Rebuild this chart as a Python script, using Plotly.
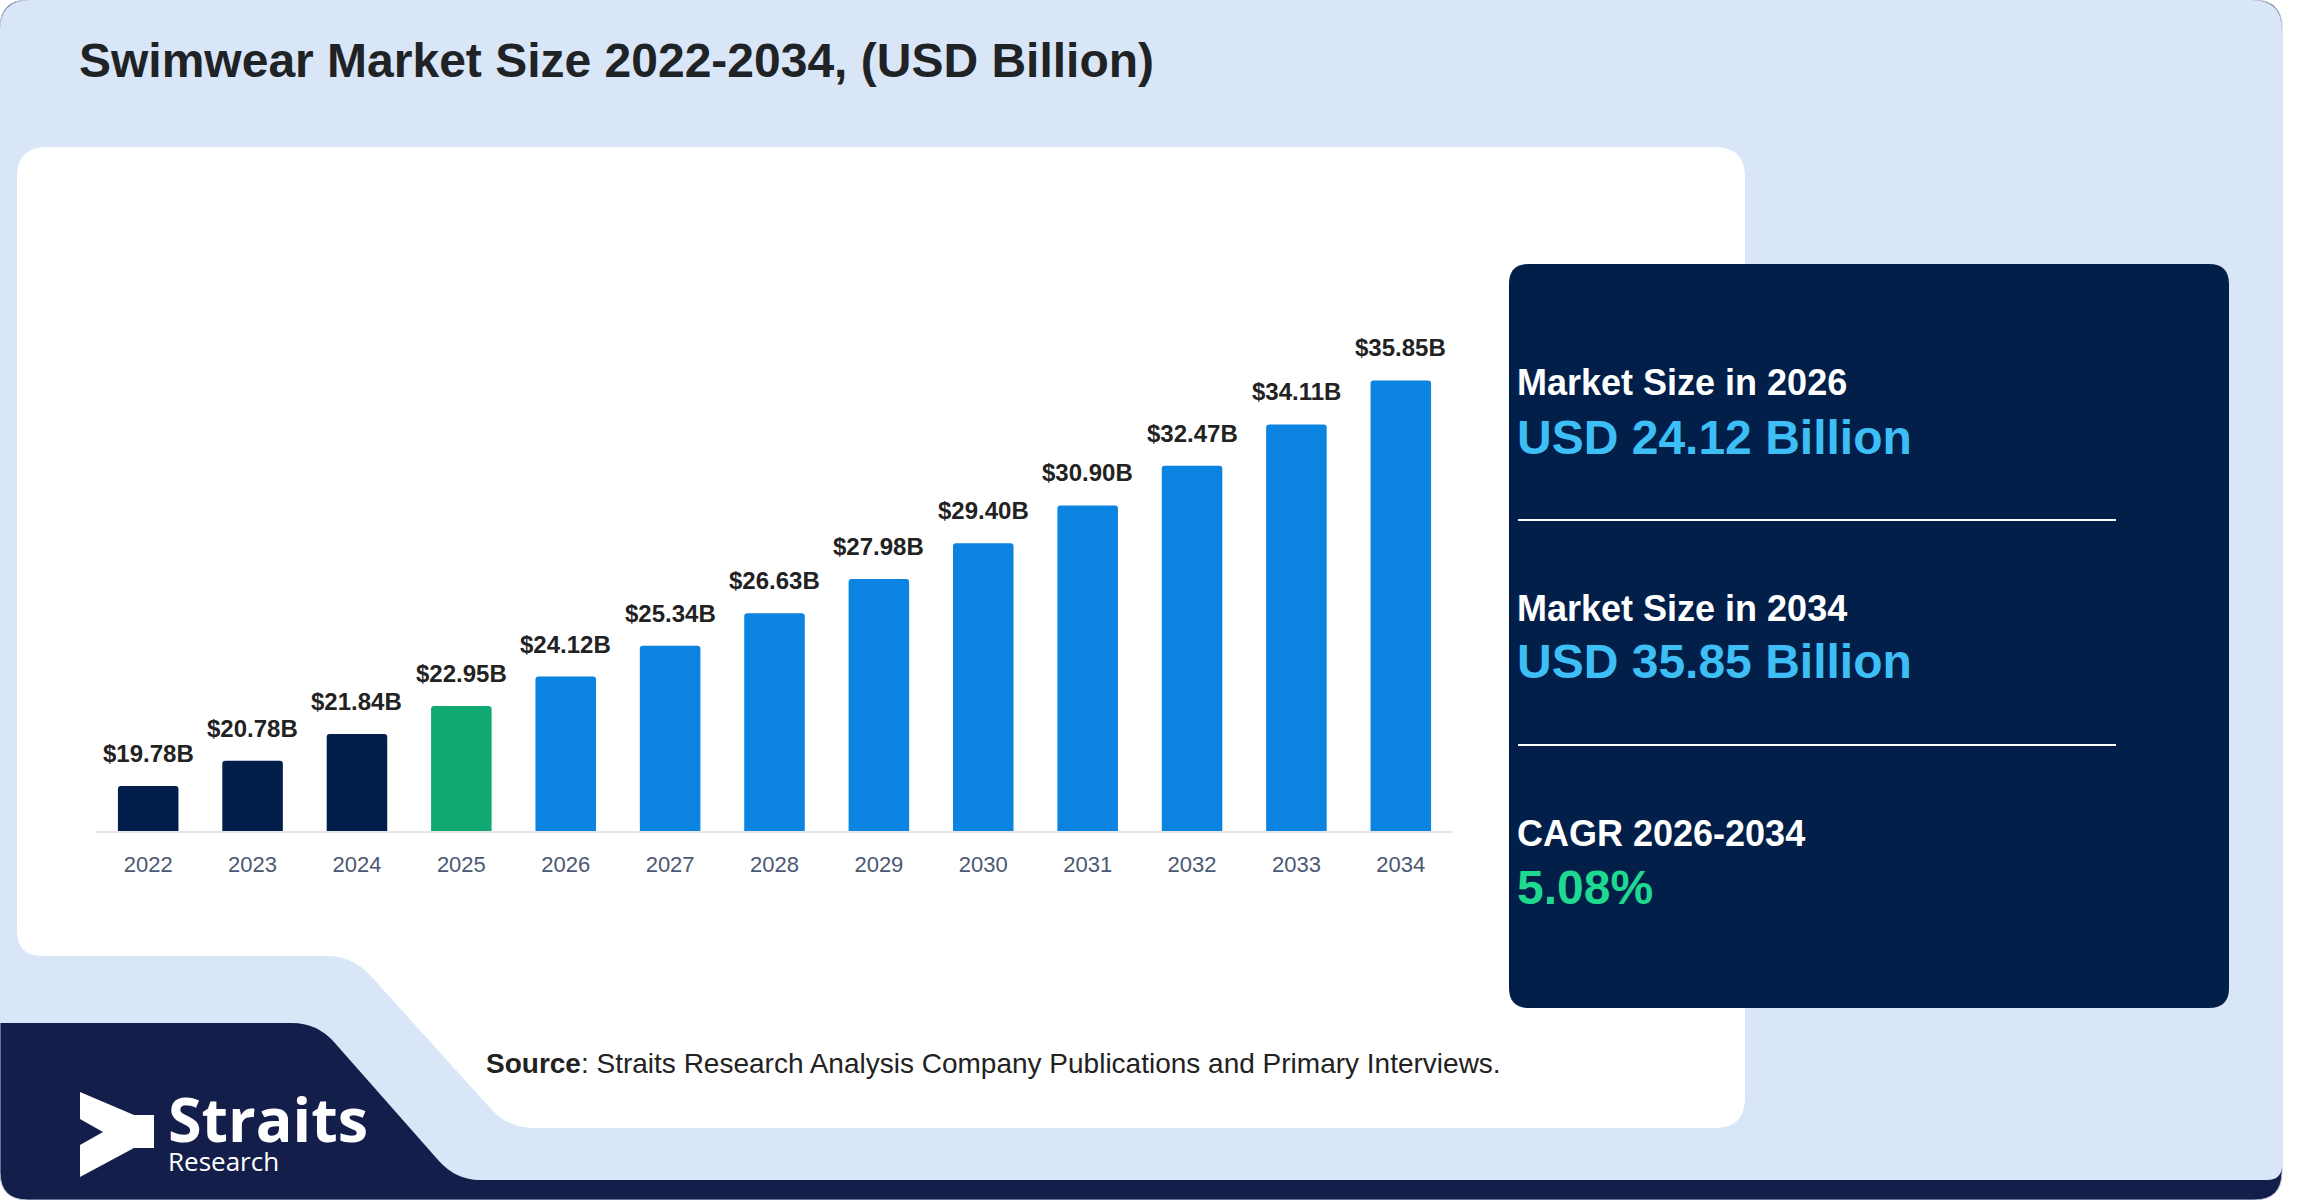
import plotly.graph_objects as go

W, H = 2312, 1200
OFF = 0  # body margin is removed in the page, so no offset is needed

years = ["2022", "2023", "2024", "2025", "2026", "2027", "2028",
         "2029", "2030", "2031", "2032", "2033", "2034"]
market_size = [19.78, 20.78, 21.84, 22.95, 24.12, 25.34, 26.63,
               27.98, 29.40, 30.90, 32.47, 34.11, 35.85]
bar_labels = ["$19.78B", "$20.78B", "$21.84B", "$22.95B", "$24.12B", "$25.34B", "$26.63B",
              "$27.98B", "$29.40B", "$30.90B", "$32.47B", "$34.11B", "$35.85B"]
bar_colors = ["#021f4b"] * 3 + ["#12a872"] + ["#0b83e0"] * 9

panel_titles = ["Market Size in 2026", "Market Size in 2034", "CAGR 2026-2034"]
panel_values = ["USD 24.12 Billion", "USD 35.85 Billion", "5.08%"]
panel_value_colors = ["#3dbff5", "#3dbff5", "#20d990"]

FONT = "Liberation Sans, Arial, sans-serif"
LOGO_FONT = "Open Sans, sans-serif"


def px(x):
    return (x - OFF) / W


def py(y):
    return 1 - (y - OFF) / H


def P(x, y):
    # pixel -> paper coordinates
    return f"{px(x):.5f},{py(y):.5f}"


def rounded_rect(x0, y0, x1, y1, r):
    return (f"M {P(x0 + r, y0)} L {P(x1 - r, y0)} Q {P(x1, y0)} {P(x1, y0 + r)} "
            f"L {P(x1, y1 - r)} Q {P(x1, y1)} {P(x1 - r, y1)} "
            f"L {P(x0 + r, y1)} Q {P(x0, y1)} {P(x0, y1 - r)} "
            f"L {P(x0, y0 + r)} Q {P(x0, y0)} {P(x0 + r, y0)} Z")


def path_shape(path, color, line_color=None, line_width=0):
    return dict(type="path", path=path, xref="paper", yref="paper", layer="below",
                fillcolor=color, line=dict(width=line_width, color=line_color or color))


# background pieces
outer = rounded_rect(0, 0, 2282, 1200, 28)

light_blue = (f"M {P(0, 30)} Q {P(0, 0)} {P(30, 0)} L {P(2252, 0)} Q {P(2282, 0)} {P(2282, 30)} "
              f"L {P(2282, 1165)} Q {P(2282, 1180)} {P(2267, 1180)} L {P(480, 1180)} "
              f"Q {P(456, 1180)} {P(439, 1161)} L {P(334, 1042)} Q {P(317, 1023)} {P(292, 1023)} "
              f"L {P(0, 1023)} Z")

white_panel = (f"M {P(47, 147)} L {P(1715, 147)} Q {P(1745, 147)} {P(1745, 177)} "
               f"L {P(1745, 1098)} Q {P(1745, 1128)} {P(1715, 1128)} L {P(534, 1128)} "
               f"Q {P(509, 1128)} {P(492, 1110)} L {P(369, 974)} Q {P(352, 956)} {P(327, 956)} "
               f"L {P(42, 956)} Q {P(17, 956)} {P(17, 931)} L {P(17, 177)} Q {P(17, 147)} {P(47, 147)} Z")

dark_panel = rounded_rect(1509, 264, 2229, 1008, 20)

logo_mark = (f"M {P(80, 1092)} L {P(134, 1115)} L {P(154, 1115)} L {P(154, 1148)} "
             f"L {P(134, 1148)} L {P(80, 1177)} L {P(80, 1145)} L {P(103, 1132)} L {P(80, 1119)} Z")

shapes = [
    path_shape(outer, "#131f4a", "#b6c3d8", 1),
    path_shape(light_blue, "#d9e6f8"),
    path_shape(white_panel, "#ffffff"),
    path_shape(dark_panel, "#011f49"),
    dict(type="path", path=logo_mark, xref="paper", yref="paper", layer="above",
         fillcolor="#ffffff", line=dict(width=0)),
    dict(type="line", xref="paper", yref="paper", x0=px(1518), x1=px(2116),
         y0=py(520), y1=py(520), line=dict(color="#ffffff", width=2)),
    dict(type="line", xref="paper", yref="paper", x0=px(1518), x1=px(2116),
         y0=py(745), y1=py(745), line=dict(color="#ffffff", width=2)),
]

fig = go.Figure()
fig.add_trace(go.Bar(
    x=years, y=market_size, marker=dict(color=bar_colors, cornerradius=3, line=dict(width=0)),
    hoverinfo="x+y", showlegend=False,
))

annotations = []
# value labels above the bars (category index on x)
for i, (v, lab) in enumerate(zip(market_size, bar_labels)):
    annotations.append(dict(x=i, y=v, xref="x", yref="y", text=lab, showarrow=False,
                            yanchor="bottom", yshift=17,
                            font=dict(family=FONT, size=24, color="#222222", weight="bold")))


def text_at(x, y, text, size, color, bold=False, family=FONT, yanchor="middle"):
    annotations.append(dict(x=px(x), y=py(y), xref="paper", yref="paper", text=text,
                            showarrow=False, xanchor="left", yanchor=yanchor, align="left",
                            font=dict(family=family, size=size, color=color,
                                      weight="bold" if bold else "normal")))


text_at(77, 60, "Swimwear Market Size 2022-2034, (USD Billion)", 48, "#1f2326", bold=True)

title_y = [383, 609, 833]
value_y = [437, 661, 887]
for t, v, c, ty, vy in zip(panel_titles, panel_values, panel_value_colors, title_y, value_y):
    text_at(1515, ty, t, 36, "#ffffff", bold=True)
    text_at(1515, vy, v, 48, c, bold=True)

text_at(484, 1063, "<b>Source</b>: Straits Research Analysis Company Publications and Primary Interviews.",
        28, "#222222")

# logo wordmark: both lines in one text block
text_at(166, 1181,
        '<span style="font-size:61px"><b>Straits</b></span><br>'
        '<span style="font-size:26px">Research</span>',
        22, "#ffffff", family=LOGO_FONT, yanchor="bottom")

fig.update_layout(
    width=W, height=H,
    margin=dict(l=0, r=0, t=0, b=0, autoexpand=False),
    paper_bgcolor="#ffffff",
    plot_bgcolor="rgba(0,0,0,0)",
    shapes=shapes,
    annotations=annotations,
    bargap=0.42,
    showlegend=False,
    xaxis=dict(domain=[px(96), px(1453)], type="category", range=[-0.5, len(years) - 0.5],
               showgrid=False, zeroline=False,
               showline=True, linecolor="#e4e6ea", linewidth=2, ticks="",
               ticklabelstandoff=13, automargin=False,
               tickfont=dict(family=FONT, size=22, color="#4b5873")),
    yaxis=dict(domain=[py(831), py(200)], range=[18, 43], visible=False,
               showgrid=False, zeroline=False, automargin=False),
)

fig.write_html("out.html", config={"displayModeBar": False},
               post_script="document.body.style.margin = '0px';")
